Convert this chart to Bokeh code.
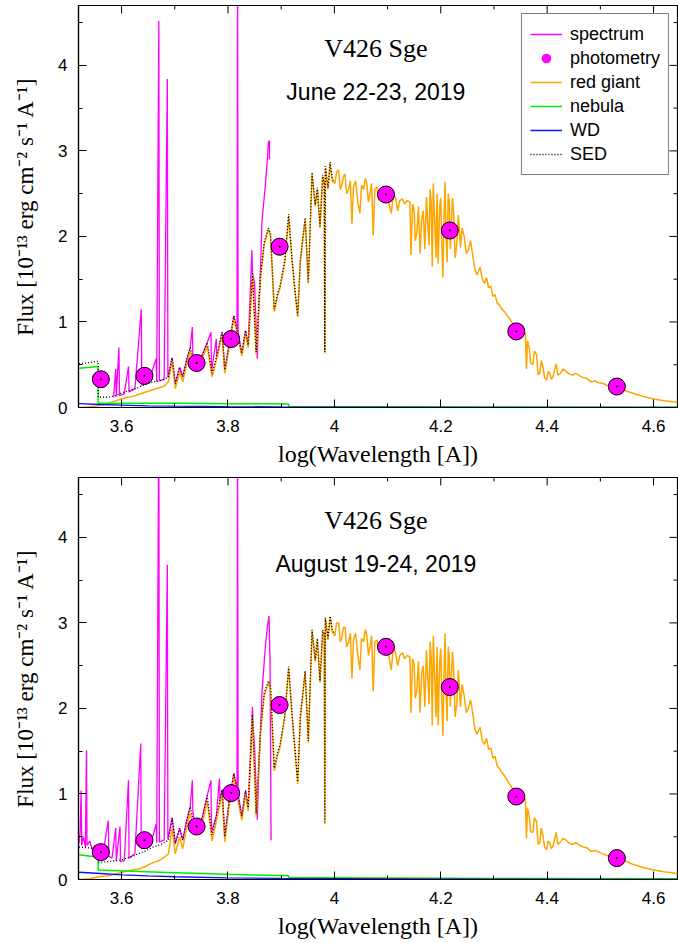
import math
from bokeh.plotting import figure
from bokeh.layouts import column
from bokeh.models import (SingleIntervalTicker, CustomJSTickFormatter,
                          Range1d, Label, Legend, LegendItem)
from bokeh.embed import file_html
from bokeh.resources import INLINE

# ---------------- data ----------------
# photometric points (log wavelength, flux 1e-13)
phot_logw = [3.561, 3.643, 3.741, 3.806, 3.897, 4.097, 4.217, 4.342, 4.531]
phot_june = [0.33, 0.37, 0.52, 0.80, 1.88, 2.49, 2.07, 0.89, 0.245]
phot_aug = [0.32, 0.46, 0.62, 1.01, 2.04, 2.72, 2.25, 0.97, 0.25]

# red giant model, part a: optical (TiO bands)
rg_logw_a = [3.520, 3.540, 3.555, 3.570, 3.580, 3.590, 3.600, 3.610, 3.620, 3.630,
             3.640, 3.650, 3.660, 3.670, 3.680, 3.688, 3.695, 3.701, 3.709, 3.715,
             3.722, 3.729, 3.738, 3.745, 3.752, 3.761, 3.770, 3.778, 3.789, 3.794,
             3.802, 3.811, 3.818, 3.826, 3.833, 3.838, 3.846, 3.853, 3.861, 3.868,
             3.876, 3.880, 3.887, 3.893, 3.898, 3.907, 3.914, 3.920, 3.926, 3.931,
             3.936, 3.945, 3.951, 3.958, 3.964, 3.968, 3.973, 3.978, 3.981, 3.982,
             3.983, 3.988, 3.992, 3.996]
rg_june_a = [0.00, 0.01, 0.02, 0.04, 0.06, 0.08, 0.10, 0.12, 0.13, 0.15,
             0.17, 0.19, 0.21, 0.23, 0.25, 0.30, 0.55, 0.22, 0.42, 0.30,
             0.50, 0.66, 0.45, 0.48, 0.58, 0.72, 0.36, 0.55, 0.85, 0.40,
             0.70, 1.04, 0.85, 0.60, 0.87, 0.70, 1.55, 0.62, 1.50, 1.90,
             2.08, 2.00, 1.12, 1.30, 1.40, 1.70, 2.23, 1.75, 1.35, 1.06,
             1.70, 2.20, 1.45, 2.73, 2.35, 2.55, 2.10, 2.70, 2.60, 0.63,
             2.80, 2.55, 2.85, 2.65]
rg_aug_a = [0.00, 0.01, 0.03, 0.04, 0.05, 0.07, 0.08, 0.10, 0.11, 0.12,
            0.14, 0.17, 0.20, 0.22, 0.26, 0.30, 0.60, 0.30, 0.50, 0.36,
            0.60, 0.78, 0.52, 0.55, 0.66, 0.92, 0.45, 0.68, 1.00, 0.44,
            0.85, 1.20, 0.95, 0.69, 1.00, 0.80, 1.90, 0.73, 1.70, 2.15,
            2.30, 2.22, 1.27, 1.45, 1.55, 1.90, 2.47, 1.95, 1.50, 1.12,
            1.88, 2.42, 1.60, 2.90, 2.55, 2.80, 2.30, 2.90, 2.85, 0.65,
            3.05, 2.80, 3.07, 2.90]

# red giant model, part b: J/H region
rg_logw_b = [4.001, 4.004, 4.008, 4.011, 4.014, 4.017, 4.020, 4.023, 4.027, 4.030,
             4.033, 4.036, 4.040, 4.044, 4.048, 4.051, 4.055, 4.058, 4.061, 4.064,
             4.067, 4.070, 4.073, 4.076, 4.080, 4.084, 4.088, 4.093, 4.098, 4.102,
             4.107, 4.111, 4.115, 4.119, 4.123, 4.128, 4.132, 4.137, 4.142, 4.144,
             4.147, 4.150, 4.152, 4.155, 4.158, 4.161, 4.164, 4.167, 4.170, 4.173,
             4.176, 4.178, 4.180, 4.182, 4.184, 4.186, 4.189, 4.191, 4.193, 4.195,
             4.198, 4.200, 4.202, 4.204, 4.206, 4.208, 4.210, 4.212, 4.214, 4.216,
             4.218, 4.220, 4.222, 4.224, 4.227, 4.230, 4.233, 4.237, 4.240, 4.244,
             4.248, 4.252, 4.256, 4.260, 4.264, 4.268]
rg_june_b = [2.62, 2.75, 2.78, 2.55, 2.60, 2.70, 2.73, 2.50, 2.55, 2.65,
             2.15, 2.58, 2.65, 2.40, 2.27, 2.60, 2.55, 2.68, 2.62, 2.40,
             2.50, 2.62, 2.01, 2.55, 2.58, 2.42, 2.50, 2.55, 2.46, 2.40,
             2.27, 2.50, 2.45, 2.30, 2.42, 2.44, 2.38, 2.42, 2.40, 1.78,
             2.38, 2.30, 1.95, 2.04, 2.35, 1.80, 2.20, 2.30, 1.85, 2.46,
             2.10, 1.90, 2.55, 2.40, 1.65, 2.62, 2.10, 1.75, 2.50, 1.68,
             2.35, 2.45, 1.90, 1.52, 2.20, 2.64, 2.00, 1.70, 2.50, 2.40,
             1.85, 2.15, 2.45, 2.30, 1.75, 1.90, 2.25, 1.87, 2.10, 2.00,
             1.80, 1.84, 1.95, 1.78, 1.62, 1.55]
rg_aug_b = [2.85, 3.00, 3.00, 2.78, 2.82, 2.95, 2.95, 2.72, 2.78, 2.88,
            2.35, 2.80, 2.88, 2.62, 2.45, 2.82, 2.78, 2.92, 2.85, 2.62,
            2.72, 2.85, 2.20, 2.78, 2.80, 2.65, 2.72, 2.78, 2.70, 2.62,
            2.45, 2.72, 2.65, 2.50, 2.62, 2.65, 2.58, 2.62, 2.60, 1.95,
            2.58, 2.50, 2.12, 2.20, 2.55, 1.95, 2.40, 2.50, 2.02, 2.68,
            2.30, 2.05, 2.78, 2.60, 1.80, 2.85, 2.30, 1.90, 2.72, 1.80,
            2.55, 2.70, 2.08, 1.68, 2.40, 2.88, 2.18, 1.85, 2.72, 2.60,
            2.02, 2.35, 2.66, 2.50, 1.90, 2.05, 2.45, 2.02, 2.28, 2.15,
            1.95, 2.00, 2.10, 1.95, 1.76, 1.70]

# red giant model, part c: K/L region
rg_logw_c = [4.274, 4.278, 4.282, 4.286, 4.290, 4.294, 4.298, 4.302, 4.306, 4.310,
             4.315, 4.320, 4.324, 4.328, 4.333, 4.337, 4.341, 4.345, 4.349, 4.355,
             4.359, 4.361, 4.363, 4.366, 4.369, 4.373, 4.376, 4.380, 4.383, 4.386,
             4.389, 4.392, 4.395, 4.399, 4.402, 4.405, 4.408, 4.411, 4.414, 4.417,
             4.420, 4.425, 4.430, 4.436, 4.442, 4.448, 4.454, 4.461, 4.468, 4.475,
             4.482, 4.490, 4.497, 4.505, 4.512, 4.520, 4.530, 4.540, 4.550, 4.560,
             4.570, 4.580, 4.600, 4.620, 4.645]
rg_june_c = [1.64, 1.50, 1.45, 1.52, 1.40, 1.42, 1.30, 1.32, 1.22, 1.20,
             1.15, 1.12, 1.08, 1.05, 1.00, 0.97, 0.92, 0.93, 0.90, 0.85,
             0.87, 0.45, 0.78, 0.70, 0.52, 0.50, 0.66, 0.62, 0.38, 0.40,
             0.55, 0.48, 0.35, 0.32, 0.42, 0.40, 0.33, 0.36, 0.44, 0.51,
             0.38, 0.40, 0.45, 0.42, 0.39, 0.38, 0.40, 0.37, 0.35, 0.34,
             0.30, 0.31, 0.29, 0.28, 0.26, 0.25, 0.23, 0.21, 0.19, 0.17,
             0.15, 0.13, 0.10, 0.08, 0.06]
rg_aug_c = [1.78, 1.62, 1.58, 1.65, 1.52, 1.54, 1.42, 1.44, 1.33, 1.30,
            1.25, 1.21, 1.17, 1.13, 1.08, 1.04, 1.00, 1.01, 0.97, 0.92,
            0.95, 0.48, 0.84, 0.75, 0.56, 0.55, 0.72, 0.68, 0.41, 0.43,
            0.60, 0.52, 0.38, 0.35, 0.45, 0.43, 0.36, 0.39, 0.47, 0.55,
            0.41, 0.44, 0.48, 0.46, 0.42, 0.41, 0.43, 0.40, 0.38, 0.37,
            0.33, 0.34, 0.32, 0.30, 0.28, 0.27, 0.25, 0.23, 0.21, 0.18,
            0.16, 0.14, 0.11, 0.09, 0.07]

rg_logw = rg_logw_a + rg_logw_b + rg_logw_c
rg_june = rg_june_a + rg_june_b + rg_june_c
rg_aug = rg_aug_a + rg_aug_b + rg_aug_c

# total SED model
sed_logw = [3.520, 3.556, 3.556, 3.575, 3.590, 3.600, 3.610, 3.620, 3.630, 3.640,
            3.650, 3.660, 3.670, 3.680, 3.688, 3.695, 3.701, 3.709, 3.715, 3.722,
            3.729, 3.738, 3.745, 3.752, 3.761, 3.770, 3.778, 3.789, 3.794, 3.802,
            3.811, 3.818, 3.826, 3.833, 3.838, 3.846, 3.853, 3.861, 3.868, 3.876,
            3.880, 3.887, 3.893, 3.898, 3.907, 3.914, 3.920, 3.926, 3.931, 3.936,
            3.945, 3.951, 3.958, 3.964, 3.968, 3.973, 3.978, 3.981, 3.982, 3.983,
            3.988, 3.992, 3.996, 4.000]
sed_june = [0.51, 0.54, 0.12, 0.12, 0.14, 0.17, 0.19, 0.21, 0.23, 0.26,
            0.28, 0.30, 0.31, 0.33, 0.36, 0.58, 0.28, 0.47, 0.36, 0.55,
            0.70, 0.50, 0.52, 0.62, 0.76, 0.40, 0.58, 0.88, 0.44, 0.73,
            1.07, 0.88, 0.63, 0.90, 0.73, 1.58, 0.65, 1.53, 1.93, 2.10,
            2.03, 1.15, 1.33, 1.43, 1.73, 2.26, 1.77, 1.37, 1.08, 1.72,
            2.22, 1.47, 2.75, 2.37, 2.57, 2.12, 2.72, 2.62, 0.65, 2.82,
            2.57, 2.87, 2.67, 2.64]
sed_aug = [0.38, 0.36, 0.20, 0.21, 0.22, 0.23, 0.25, 0.27, 0.30, 0.32,
           0.35, 0.38, 0.40, 0.43, 0.46, 0.72, 0.42, 0.60, 0.46, 0.68,
           0.85, 0.60, 0.62, 0.73, 0.98, 0.52, 0.74, 1.05, 0.50, 0.90,
           1.24, 1.00, 0.74, 1.04, 0.84, 1.93, 0.77, 1.73, 2.18, 2.32,
           2.25, 1.30, 1.48, 1.58, 1.93, 2.49, 1.97, 1.52, 1.14, 1.90,
           2.44, 1.62, 2.92, 2.57, 2.82, 2.32, 2.92, 2.87, 0.67, 3.06,
           2.82, 3.08, 2.92, 2.87]

# nebular continuum
neb_logw = [3.520, 3.556, 3.556, 3.700, 3.800, 3.914, 3.914, 4.000, 4.300, 4.645]
neb_june = [0.46, 0.48, 0.05, 0.05, 0.045, 0.04, 0.01, 0.01, 0.006, 0.004]
neb_aug = [0.29, 0.26, 0.11, 0.08, 0.06, 0.045, 0.02, 0.02, 0.012, 0.008]

# white dwarf
wd_logw = [3.520, 3.560, 3.600, 3.650, 3.700, 3.800, 3.900, 4.000, 4.300, 4.645]
wd_june = [0.045, 0.035, 0.028, 0.020, 0.015, 0.010, 0.007, 0.005, 0.002, 0.001]
wd_aug = [0.085, 0.070, 0.055, 0.042, 0.032, 0.020, 0.013, 0.009, 0.004, 0.002]

# observed spectra
spec_june_logw = [3.585, 3.589, 3.590, 3.595, 3.596, 3.605, 3.613, 3.614, 3.625, 3.637,
                  3.638, 3.650, 3.665, 3.666, 3.670, 3.671, 3.680, 3.686, 3.687, 3.695,
                  3.701, 3.709, 3.715, 3.722, 3.729, 3.733, 3.734, 3.738, 3.745, 3.752,
                  3.761, 3.768, 3.769, 3.778, 3.779, 3.789, 3.794, 3.802, 3.811, 3.817,
                  3.818, 3.819, 3.826, 3.833, 3.838, 3.845, 3.846, 3.850, 3.855, 3.858,
                  3.861, 3.864, 3.870, 3.874, 3.876, 3.878, 3.878]
spec_june = [0.12, 0.45, 0.13, 0.70, 0.14, 0.16, 0.48, 0.18, 0.22, 1.15,
             0.26, 0.29, 0.57, 0.30, 4.52, 0.31, 0.33, 3.84, 0.35, 0.58,
             0.28, 0.47, 0.36, 0.55, 0.70, 0.94, 0.62, 0.50, 0.52, 0.62,
             0.76, 0.88, 0.42, 0.80, 0.58, 0.88, 0.44, 0.73, 1.07, 0.90,
             5.50, 0.88, 0.63, 0.90, 0.73, 1.84, 1.58, 1.45, 0.57, 1.20,
             1.60, 2.19, 2.58, 2.90, 3.10, 3.12, 2.90]
spec_aug_logw = [3.520, 3.522, 3.524, 3.525, 3.528, 3.532, 3.534, 3.535, 3.540, 3.545,
                 3.550, 3.556, 3.565, 3.575, 3.576, 3.582, 3.589, 3.590, 3.597, 3.598,
                 3.605, 3.613, 3.614, 3.625, 3.636, 3.637, 3.645, 3.655, 3.665, 3.666,
                 3.670, 3.671, 3.680, 3.686, 3.687, 3.695, 3.701, 3.709, 3.715, 3.722,
                 3.729, 3.733, 3.734, 3.738, 3.745, 3.752, 3.761, 3.768, 3.769, 3.778,
                 3.784, 3.785, 3.789, 3.794, 3.802, 3.811, 3.817, 3.818, 3.819, 3.826,
                 3.833, 3.838, 3.846, 3.847, 3.850, 3.855, 3.858, 3.861, 3.864, 3.870,
                 3.874, 3.877, 3.879, 3.881]
spec_aug = [0.42, 0.55, 1.04, 0.40, 0.50, 0.38, 1.51, 0.40, 0.45, 0.35,
            0.40, 0.33, 0.30, 0.69, 0.27, 0.25, 0.60, 0.22, 0.62, 0.21,
            0.22, 1.16, 0.25, 0.30, 1.59, 0.36, 0.40, 0.42, 0.65, 0.43,
            5.50, 0.44, 0.46, 3.68, 0.47, 0.72, 0.42, 0.60, 0.46, 0.68,
            0.85, 1.16, 0.80, 0.60, 0.62, 0.73, 0.98, 1.16, 0.55, 0.74,
            1.18, 0.90, 1.05, 0.50, 0.90, 1.24, 1.05, 5.50, 1.00, 0.74,
            1.04, 0.84, 2.02, 1.80, 1.55, 0.70, 1.30, 1.73, 2.20, 2.70,
            2.95, 3.08, 2.60, 0.46]

titles = ["June 22-23, 2019", "August 19-24, 2019"]
star_name = "V426 Sge"
x_label = "log(Wavelength [A])"
y_label = "Flux [10\u207b\u00b9\u00b3 erg cm\u207b\u00b2 s\u207b\u00b9 A\u207b\u00b9]"

X_MIN, X_MAX = 3.519, 4.645
Y_MIN, Y_MAX = 0.0, 4.7

MAG = "#ff00ff"
ORANGE = "#ffa500"
GREEN = "#00ee00"
BLUE = "#1010ff"

fmt_code = "var v = Math.round(tick*10)/10; return v.toString();"

# mirrored tick positions (same interval as the axis tickers)
x_major = [round(3.6 + 0.2 * i, 1) for i in range(6)]
x_minor = [round(3.7 + 0.2 * i, 1) for i in range(5)]
y_major = [float(i) for i in range(5)]
y_minor = [0.5 + i for i in range(5)]


def make_panel(height, top, bottom, spec_x, spec_y, rg_y, sed_y, neb_y, wd_y,
               phot_y, date_text, with_legend):
    p = figure(width=678, height=height,
               x_range=Range1d(X_MIN, X_MAX), y_range=Range1d(Y_MIN, Y_MAX),
               output_backend="svg", toolbar_location=None,
               min_border_left=78, min_border_right=1,
               min_border_top=top, min_border_bottom=bottom)
    p.grid.visible = False
    p.outline_line_color = "black"
    p.outline_line_width = 1.2
    p.background_fill_color = "white"
    p.border_fill_color = "white"
    p.xaxis.ticker = SingleIntervalTicker(interval=0.2, num_minor_ticks=2)
    p.yaxis.ticker = SingleIntervalTicker(interval=1, num_minor_ticks=2)
    for ax in p.axis:
        ax.major_tick_in = 8
        ax.major_tick_out = 0
        ax.minor_tick_in = 4
        ax.minor_tick_out = 0
        ax.axis_line_color = "black"
        ax.axis_line_width = 1.2
        ax.major_tick_line_color = "black"
        ax.minor_tick_line_color = "black"
        ax.formatter = CustomJSTickFormatter(code=fmt_code)
        ax.major_label_text_font = "Liberation Sans"
        ax.major_label_text_font_size = "17px"
        ax.major_label_text_color = "black"
    xa = p.xaxis[0]
    xa.major_label_standoff = 12
    xa.axis_label = x_label
    xa.axis_label_text_font = "Liberation Serif"
    xa.axis_label_text_font_size = "24px"
    xa.axis_label_text_font_style = "normal"
    xa.axis_label_text_color = "black"
    xa.axis_label_standoff = 6
    ya = p.yaxis[0]
    ya.major_label_standoff = 11
    ya.axis_label = y_label
    ya.axis_label_text_font = "Liberation Serif"
    ya.axis_label_text_font_size = "23px"
    ya.axis_label_text_font_style = "normal"
    ya.axis_label_text_color = "black"
    ya.axis_label_standoff = 17

    # mirrored inward ticks on the top and right frame edges
    p.ray(x=x_major, y=[Y_MAX] * len(x_major), length=8, length_units="screen",
          angle=-math.pi / 2, line_color="black", line_width=1)
    p.ray(x=x_minor, y=[Y_MAX] * len(x_minor), length=4, length_units="screen",
          angle=-math.pi / 2, line_color="black", line_width=1)
    p.ray(x=[X_MAX] * len(y_major), y=y_major, length=8, length_units="screen",
          angle=math.pi, line_color="black", line_width=1)
    p.ray(x=[X_MAX] * len(y_minor), y=y_minor, length=4, length_units="screen",
          angle=math.pi, line_color="black", line_width=1)

    r_spec = p.line(spec_x, spec_y, line_color=MAG, line_width=1.3)
    r_rg = p.line(rg_logw, rg_y, line_color=ORANGE, line_width=1.5)
    r_neb = p.line(neb_logw, neb_y, line_color=GREEN, line_width=1.5)
    r_wd = p.line(wd_logw, wd_y, line_color=BLUE, line_width=1.3)
    r_sed = p.line(sed_logw, sed_y, line_color="black", line_width=1.3, line_dash="1 2")
    r_phot_leg = p.scatter(phot_logw, phot_y, size=17, fill_color=MAG, line_color=None)
    p.scatter(phot_logw, phot_y, size=17, fill_color=MAG, line_color="black", line_width=1)
    p.scatter(phot_logw, phot_y, size=2, fill_color="black", line_color=None)

    p.add_layout(Label(x=4.078, y=4.20, text=star_name, text_font="Liberation Serif",
                       text_font_size="26px", text_align="center", text_baseline="middle",
                       text_color="black"))
    p.add_layout(Label(x=4.078, y=3.69, text=date_text, text_font="Liberation Sans",
                       text_font_size="23px", text_align="center", text_baseline="middle",
                       text_color="black"))

    if with_legend:
        leg = Legend(items=[
            LegendItem(label="spectrum", renderers=[r_spec]),
            LegendItem(label="photometry", renderers=[r_phot_leg]),
            LegendItem(label="red giant", renderers=[r_rg]),
            LegendItem(label="nebula", renderers=[r_neb]),
            LegendItem(label="WD", renderers=[r_wd]),
            LegendItem(label="SED", renderers=[r_sed]),
        ])
        leg.location = "top_right"
        leg.margin = 8
        leg.padding = 8
        leg.spacing = 0
        leg.label_height = 24
        leg.glyph_height = 24
        leg.glyph_width = 32
        leg.label_standoff = 8
        leg.label_text_font = "Liberation Sans"
        leg.label_text_font_size = "18px"
        leg.label_text_color = "black"
        leg.border_line_color = "black"
        leg.border_line_width = 1
        leg.background_fill_alpha = 1.0
        p.add_layout(leg)
    return p


p1 = make_panel(470, 5, 63, spec_june_logw, spec_june, rg_june, sed_june, neb_june,
                wd_june, phot_june, titles[0], True)
p2 = make_panel(473, 7, 64, spec_aug_logw, spec_aug, rg_aug, sed_aug, neb_aug,
                wd_aug, phot_aug, titles[1], False)

layout = column(p1, p2, spacing=0)
open("out.html", "w").write(file_html(layout, INLINE))
